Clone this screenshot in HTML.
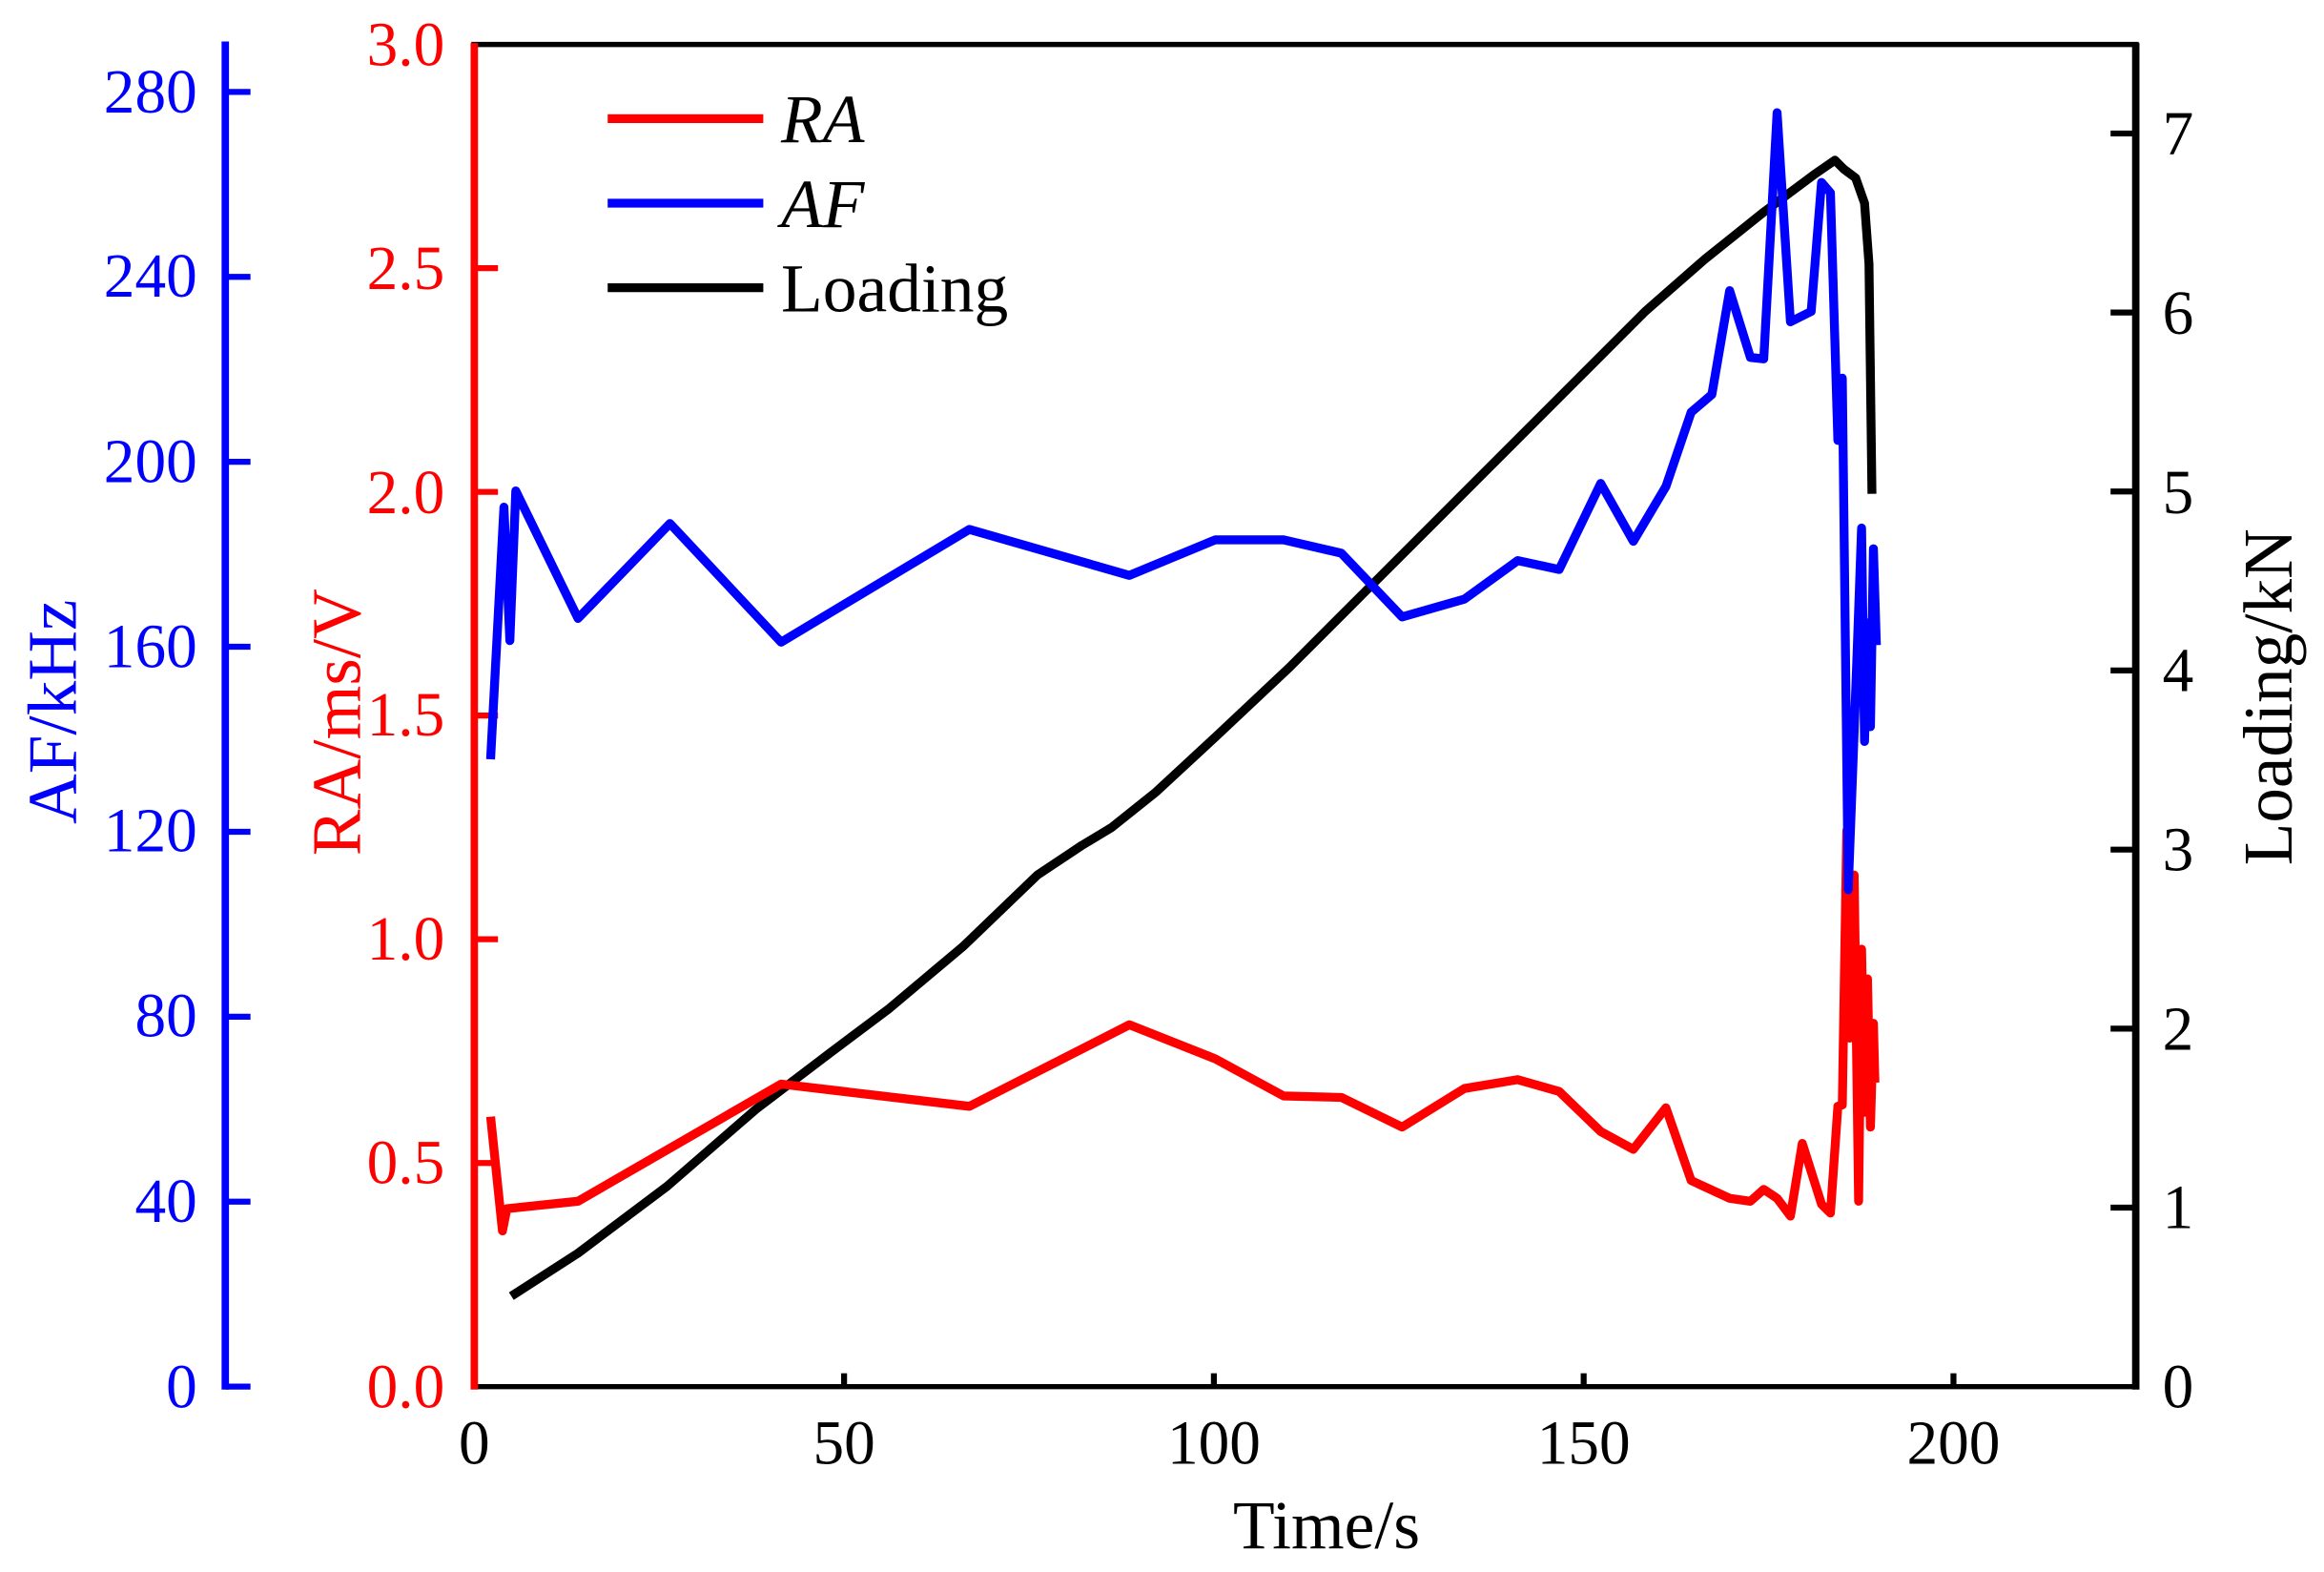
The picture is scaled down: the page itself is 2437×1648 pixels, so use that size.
<!DOCTYPE html>
<html><head><meta charset="utf-8"><style>html,body{margin:0;padding:0;background:#fff}svg{display:block}</style></head>
<body>
<svg width="2437" height="1648" viewBox="0 0 1568 1060" preserveAspectRatio="none" xmlns="http://www.w3.org/2000/svg" font-family="Liberation Serif, serif">
<rect width="1568" height="1060" fill="#fff"/>
<!-- frame -->
<line x1="318" y1="30" x2="1443" y2="30" stroke="#000" stroke-width="3.5"/>
<line x1="318" y1="935" x2="1443" y2="935" stroke="#000" stroke-width="3.5"/>
<line x1="1441" y1="29" x2="1441" y2="937" stroke="#000" stroke-width="5"/>
<line x1="320" y1="29" x2="320" y2="937" stroke="#f00" stroke-width="5"/>
<line x1="152" y1="28" x2="152" y2="937" stroke="#00f" stroke-width="5"/>
<!-- x ticks -->
<g stroke="#000" stroke-width="4">
<line x1="569.5" y1="935" x2="569.5" y2="926"/><line x1="819" y1="935" x2="819" y2="926"/><line x1="1068.5" y1="935" x2="1068.5" y2="926"/><line x1="1318" y1="935" x2="1318" y2="926"/>
</g>
<g font-size="42" text-anchor="middle" fill="#000">
<text x="320" y="987">0</text><text x="569.5" y="987">50</text><text x="819" y="987">100</text><text x="1068.5" y="987">150</text><text x="1318" y="987">200</text>
</g>
<text x="895" y="1044" font-size="46" text-anchor="middle">Time/s</text>
<!-- blue axis -->
<g stroke="#00f" stroke-width="4">
<line x1="152" y1="935" x2="169" y2="935"/><line x1="152" y1="810.3" x2="169" y2="810.3"/><line x1="152" y1="685.6" x2="169" y2="685.6"/><line x1="152" y1="560.9" x2="169" y2="560.9"/><line x1="152" y1="436.1" x2="169" y2="436.1"/><line x1="152" y1="311.4" x2="169" y2="311.4"/><line x1="152" y1="186.7" x2="169" y2="186.7"/><line x1="152" y1="62" x2="169" y2="62"/>
</g>
<g font-size="42" text-anchor="end" fill="#00f">
<text x="133" y="949">0</text><text x="133" y="824">40</text><text x="133" y="699">80</text><text x="133" y="574">120</text><text x="133" y="450">160</text><text x="133" y="325">200</text><text x="133" y="200">240</text><text x="133" y="76">280</text>
</g>
<text transform="translate(51,480) rotate(-90)" font-size="47" text-anchor="middle" fill="#00f">AF/kHz</text>
<!-- red axis -->
<g stroke="#f00" stroke-width="4">
<line x1="320" y1="784.2" x2="336" y2="784.2"/><line x1="320" y1="633.3" x2="336" y2="633.3"/><line x1="320" y1="482.5" x2="336" y2="482.5"/><line x1="320" y1="331.7" x2="336" y2="331.7"/><line x1="320" y1="180.8" x2="336" y2="180.8"/>
</g>
<g font-size="42" text-anchor="end" fill="#f00">
<text x="300" y="949">0.0</text><text x="300" y="798">0.5</text><text x="300" y="647">1.0</text><text x="300" y="496">1.5</text><text x="300" y="346">2.0</text><text x="300" y="195">2.5</text><text x="300" y="44">3.0</text>
</g>
<text transform="translate(243,487) rotate(-90)" font-size="47" text-anchor="middle" fill="#f00">RA/ms/V</text>
<!-- right axis -->
<g stroke="#000" stroke-width="4">
<line x1="1441" y1="814.3" x2="1424" y2="814.3"/><line x1="1441" y1="693.6" x2="1424" y2="693.6"/><line x1="1441" y1="572.9" x2="1424" y2="572.9"/><line x1="1441" y1="452.1" x2="1424" y2="452.1"/><line x1="1441" y1="331.4" x2="1424" y2="331.4"/><line x1="1441" y1="210.7" x2="1424" y2="210.7"/><line x1="1441" y1="90" x2="1424" y2="90"/>
</g>
<g font-size="42" text-anchor="start" fill="#000">
<text x="1459" y="949">0</text><text x="1459" y="828">1</text><text x="1459" y="708">2</text><text x="1459" y="587">3</text><text x="1459" y="466">4</text><text x="1459" y="346">5</text><text x="1459" y="225">6</text><text x="1459" y="104">7</text>
</g>
<text transform="translate(1546,470) rotate(-90)" font-size="47" text-anchor="middle" fill="#000">Loading/kN</text>
<!-- series -->
<polyline fill="none" stroke="#000" stroke-width="6" stroke-linejoin="round" points="345,874 390,845 450,800 510,748 560,710 600,680 650,638 700,590 730,570 750,558 780,534 820,497 870,450 920,400 970,350 1020,300 1070,250 1110,210 1150,175 1190,143 1225,117 1238,108 1244,114 1252,120 1258,137 1261,178 1263,333"/>
<polyline fill="none" stroke="#f00" stroke-width="6" stroke-linejoin="round" points="331,753 339,830 342,815 390,810 527,731 654,746 762,691 820,714 866,739 905,740 946,760 988,734 1024,728 1052,736 1080,763 1102,775 1124,747 1141,796 1167,808 1181,810 1190,802 1199,808 1208,820 1216,771 1229,812 1235,818 1240,746 1243,745 1246,560 1248,700 1251,590 1254,810 1256,640 1258,750 1260,660 1262,760 1264,690 1265,730"/>
<polyline fill="none" stroke="#00f" stroke-width="6" stroke-linejoin="round" points="331,512 340,342 344,432 348,331 390,417 452,353 527,433 654,357 762,388 820,364 866,364 905,373 946,416 988,404 1024,378 1052,384 1080,326 1102,365 1124,328 1141,278 1155,266 1167,196 1181,241 1190,242 1199,76 1208,217 1222,210 1229,123 1235,130 1240,297 1243,255 1247,600 1250,520 1253,440 1256,356 1258,500 1260,420 1262,490 1264,370 1266,435"/>
<!-- legend -->
<line x1="410" y1="80" x2="515" y2="80" stroke="#f00" stroke-width="6"/>
<line x1="410" y1="137" x2="515" y2="137" stroke="#00f" stroke-width="6"/>
<line x1="410" y1="194" x2="515" y2="194" stroke="#000" stroke-width="6"/>
<text x="527" y="96" font-size="46" font-style="italic">RA</text>
<text x="527" y="153" font-size="46" font-style="italic">AF</text>
<text x="527" y="210" font-size="46">Loading</text>
</svg>
</body></html>
